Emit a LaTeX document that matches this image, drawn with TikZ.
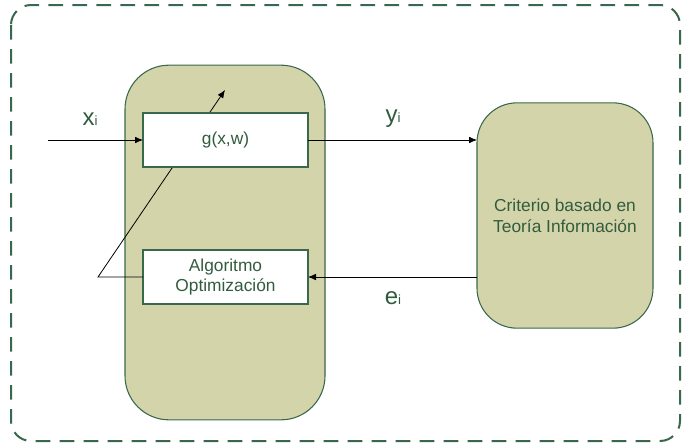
\documentclass[tikz,border=0pt]{standalone}
\usepackage{fontspec}
\setmainfont{Liberation Sans}
\usetikzlibrary{arrows.meta}
\definecolor{dgreen}{RGB}{58,104,76}
\definecolor{khaki}{RGB}{212,212,170}
\definecolor{tgreen}{RGB}{50,92,62}
\tikzset{
  panel/.style={draw=dgreen, fill=khaki, line width=0.8pt, inner sep=0pt, outer sep=0pt},
  wbox/.style={draw=dgreen, fill=white, line width=0.8pt, minimum width=123.75pt, minimum height=40.5pt, inner sep=0pt, outer sep=0pt, text=tgreen, font=\fontsize{13}{15.5}\selectfont, align=center},
  conn/.style={draw=black, line width=0.6pt, -{Latex[length=6pt,width=5pt]}},
  lbl/.style={text=tgreen, inner sep=0pt},
}
\newcommand{\bigsub}[2]{{\fontsize{18}{18}\selectfont #1}{\fontsize{10}{10}\selectfont #2}}
\begin{document}
\begin{tikzpicture}[x=0.75pt,y=-0.75pt]
\useasboundingbox (0,0) rectangle (683,447);
\draw[dgreen, line width=1.5pt, dash pattern=on 11pt off 7pt, rounded corners=15pt] (11,5) rectangle (680,441);
\node[panel, minimum width=150pt, minimum height=266pt, rounded corners=33pt] (left) at (225,242.5) {};
\node[panel, minimum width=132pt, minimum height=169pt, rounded corners=30pt, text=tgreen, font=\fontsize{13}{15.5}\selectfont, align=center] (crit) at (565,215.5) {Criterio basado en\\Teoría Información};
\node[wbox] (alg) at (225.5,277) {Algoritmo\\Optimización};
\coordinate (fb) at (98,277);
\coordinate (fbend) at (225,90);
\draw[conn] (alg.west) -- (fb) -- (fbend);
\node[wbox] (g) at (225.5,140) {g(x,w)};
\coordinate (in) at (48,140);
\draw[conn] (in) -- (g.west);
\draw[conn] (g.east) -- (crit.west |- g.east);
\draw[conn] (crit.west |- alg.east) -- (alg.east);
\node[lbl] (xl) at (90,119) {\bigsub{x}{i}};
\node[lbl] (yl) at (393,119) {\bigsub{y}{i}};
\node[lbl] (el) at (393,298) {\bigsub{e}{i}};
\end{tikzpicture}
\end{document}
